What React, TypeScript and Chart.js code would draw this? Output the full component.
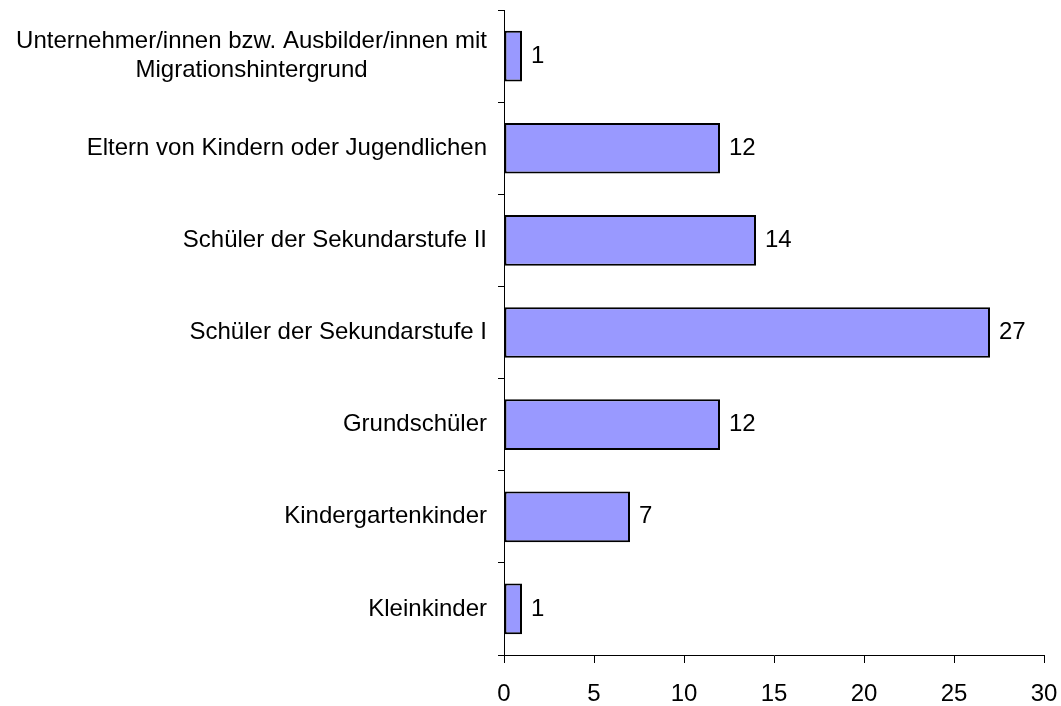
import React, { useEffect, useRef } from "react";
import { Chart, registerables } from "chart.js";

Chart.register(...registerables);

const categories: (string | string[])[] = [
  ["Unternehmer/innen bzw. Ausbilder/innen mit", "Migrationshintergrund"],
  "Eltern von Kindern oder Jugendlichen",
  "Schüler der Sekundarstufe II",
  "Schüler der Sekundarstufe I",
  "Grundschüler",
  "Kindergartenkinder",
  "Kleinkinder",
];
const values = [1, 12, 14, 27, 12, 7, 1];
const xMin = 0;
const xMax = 30;
const xStep = 5;

const FONT = '"Liberation Sans", Arial, sans-serif';
const FONT_SIZE = 24;

const yLabelPlugin = {
  id: "yLabels",
  afterDraw(chart: any) {
    const ctx = chart.ctx;
    const yScale = chart.scales.y;
    ctx.save();
    ctx.font = `${FONT_SIZE}px ${FONT}`;
    ctx.fillStyle = "#000";
    ctx.textBaseline = "middle";
    ctx.textAlign = "center";
    categories.forEach((lab, i) => {
      const lines = Array.isArray(lab) ? lab : [lab];
      const w = Math.max(...lines.map((l) => ctx.measureText(l).width));
      const cx = chart.chartArea.left - 17 - w / 2;
      const cy = yScale.getPixelForValue(i);
      const lh = 29;
      lines.forEach((l, j) => {
        ctx.fillText(l, cx, cy + (j - (lines.length - 1) / 2) * lh);
      });
    });
    ctx.restore();
  },
};

const valueLabelPlugin = {
  id: "valueLabels",
  afterDatasetsDraw(chart: any) {
    const ctx = chart.ctx;
    const meta = chart.getDatasetMeta(0);
    ctx.save();
    ctx.font = `${FONT_SIZE}px ${FONT}`;
    ctx.fillStyle = "#000";
    ctx.textBaseline = "middle";
    ctx.textAlign = "left";
    meta.data.forEach((bar: any, i: number) => {
      ctx.fillText(String(values[i]), bar.x + 9, bar.y);
    });
    ctx.restore();
  },
};

export default function App() {
  const ref = useRef<HTMLCanvasElement | null>(null);
  useEffect(() => {
    if (!ref.current) return;
    const chart = new Chart(ref.current, {
      type: "bar",
      data: {
        labels: categories as any,
        datasets: [
          {
            data: values,
            backgroundColor: "#9999FF",
            borderColor: "#000000",
            borderWidth: 2,
            borderSkipped: false,
            barPercentage: 0.55,
            categoryPercentage: 1,
          },
        ],
      },
      options: {
        indexAxis: "y",
        animation: false,
        responsive: true,
        maintainAspectRatio: false,
        events: [],
        layout: { padding: { top: 10, right: 17, left: 0, bottom: 0 } },
        plugins: {
          legend: { display: false },
          tooltip: { enabled: false },
        },
        scales: {
          x: {
            type: "linear",
            min: xMin,
            max: xMax,
            ticks: {
              stepSize: xStep,
              color: "#000",
              font: { family: FONT, size: FONT_SIZE },
              padding: 17,
            },
            grid: {
              drawOnChartArea: false,
              drawTicks: true,
              tickLength: 8,
              color: "#000",
            },
            border: { display: true, color: "#000", width: 1 },
            afterFit: (scale: any) => {
              scale.height = 51;
              scale.paddingLeft = 0;
              scale.paddingRight = 0;
            },
          },
          y: {
            type: "category",
            offset: true,
            ticks: { display: false },
            grid: {
              offset: true,
              drawOnChartArea: false,
              drawTicks: true,
              tickLength: 6,
              color: "#000",
            },
            border: { display: true, color: "#000", width: 1 },
            afterFit: (scale: any) => {
              scale.width = 504;
              scale.paddingTop = 0;
              scale.paddingBottom = 0;
            },
          },
        },
      },
      plugins: [yLabelPlugin, valueLabelPlugin],
    });
    return () => chart.destroy();
  }, []);

  return (
    <div
      style={{
        position: "absolute",
        left: 0,
        top: 0,
        width: 1061,
        height: 706,
        background: "#fff",
      }}
    >
      <canvas ref={ref} />
    </div>
  );
}
